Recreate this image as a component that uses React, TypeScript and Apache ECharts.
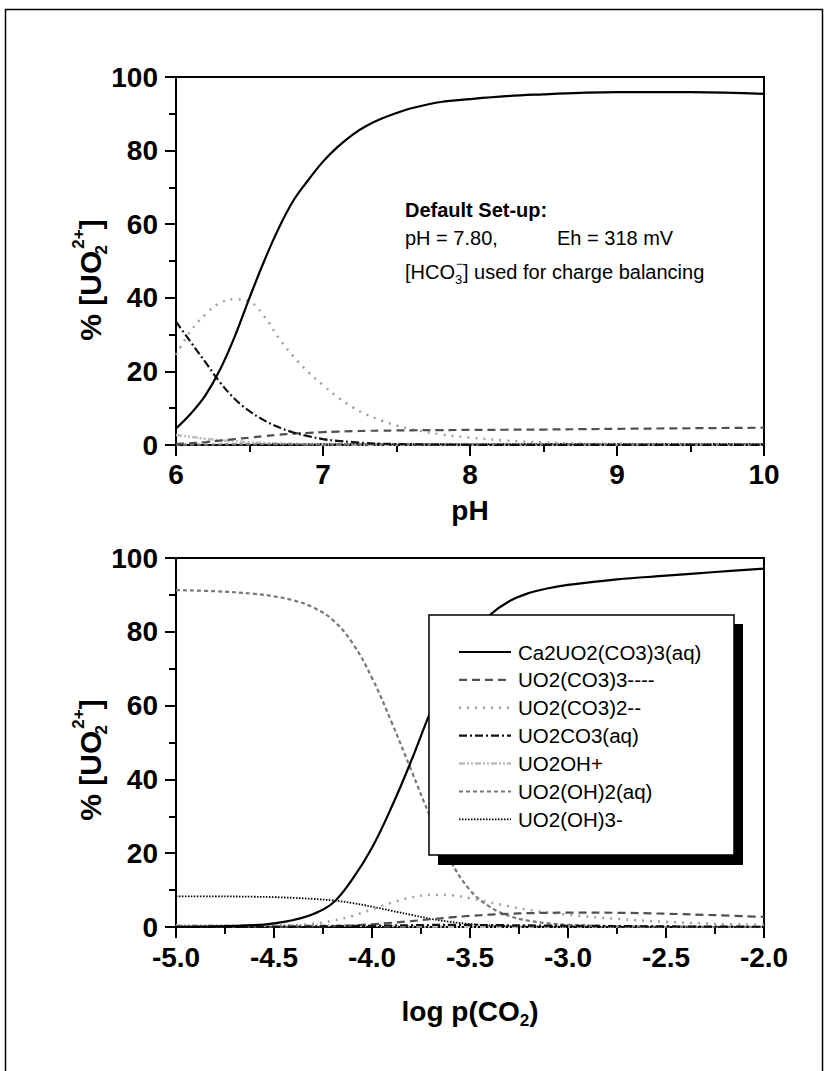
import React, { useEffect, useRef } from "react";
import * as echarts from "echarts";

const FONT = "Liberation Sans, Arial, Helvetica, sans-serif";

// ---------- top panel: percent vs pH ----------
const phValues = [6.0, 6.1, 6.2, 6.3, 6.4, 6.5, 6.6, 6.7, 6.8, 6.9, 7.0, 7.1, 7.2, 7.3, 7.4, 7.5, 7.6, 7.8, 8.0, 8.25, 8.5, 8.75, 9.0, 9.5, 10.0];
const topCa2UO2CO3 = [4.5, 8.5, 13.5, 20.5, 29.5, 40, 50, 59, 66.5, 72, 77, 81, 84.3, 86.8, 88.7, 90.2, 91.5, 93.2, 94.0, 94.8, 95.3, 95.7, 95.9, 95.9, 95.4];
const topUO2CO33 = [0.3, 0.5, 0.8, 1.2, 1.6, 2.0, 2.4, 2.8, 3.1, 3.3, 3.5, 3.65, 3.75, 3.85, 3.9, 3.95, 4.0, 4.05, 4.1, 4.15, 4.2, 4.3, 4.4, 4.55, 4.7];
const topUO2CO32 = [24.5, 31, 35.5, 38.6, 39.6, 39, 35, 29, 24, 19.8, 16.3, 13, 10.3, 8.2, 6.6, 5.3, 4.3, 2.9, 2.0, 1.2, 0.7, 0.4, 0.25, 0.1, 0.05];
const topUO2CO3aq = [33.5, 28, 22.5, 17, 12.5, 9.2, 6.7, 4.8, 3.4, 2.4, 1.6, 1.1, 0.8, 0.5, 0.35, 0.25, 0.18, 0.1, 0.05, 0.03, 0.02, 0.02, 0.02, 0.01, 0.01];
const topUO2OH = [2.7, 2.2, 1.7, 1.3, 1.0, 0.75, 0.55, 0.4, 0.3, 0.2, 0.15, 0.12, 0.1, 0.08, 0.07, 0.06, 0.05, 0.04, 0.03, 0.03, 0.02, 0.02, 0.02, 0.02, 0.02];
const topUO2OH2 = [0.1, 0.1, 0.12, 0.14, 0.16, 0.18, 0.2, 0.2, 0.2, 0.2, 0.2, 0.2, 0.2, 0.2, 0.2, 0.2, 0.2, 0.2, 0.2, 0.2, 0.2, 0.2, 0.2, 0.2, 0.2];
const topUO2OH3 = [0.02, 0.03, 0.04, 0.06, 0.08, 0.1, 0.12, 0.14, 0.16, 0.18, 0.2, 0.2, 0.22, 0.22, 0.24, 0.24, 0.25, 0.25, 0.26, 0.26, 0.27, 0.27, 0.28, 0.28, 0.3];

// ---------- bottom panel: percent vs log p(CO2) ----------
const logPco2 = [-5.0, -4.8, -4.6, -4.5, -4.4, -4.3, -4.2, -4.1, -4.0, -3.9, -3.8, -3.7, -3.6, -3.5, -3.4, -3.3, -3.2, -3.1, -3.0, -2.75, -2.5, -2.25, -2.0];
const botCa2UO2CO3 = [0.05, 0.15, 0.5, 1.0, 1.9, 3.5, 6.5, 13.0, 21.5, 32.5, 45, 58.5, 70, 78.5, 84.5, 88.3, 90.5, 91.8, 92.7, 94.2, 95.2, 96.2, 97.1];
const botUO2CO33 = [0.0, 0.01, 0.02, 0.04, 0.07, 0.13, 0.25, 0.45, 0.75, 1.15, 1.6, 2.1, 2.6, 3.0, 3.35, 3.6, 3.75, 3.85, 3.9, 3.85, 3.6, 3.2, 2.75];
const botUO2CO32 = [0.05, 0.1, 0.2, 0.3, 0.5, 0.9, 1.7, 3.0, 4.8, 6.6, 8.0, 8.7, 8.6, 7.8, 6.7, 5.6, 4.6, 3.9, 3.3, 2.2, 1.4, 0.9, 0.6];
const botUO2CO3aq = [0.02, 0.03, 0.05, 0.07, 0.1, 0.14, 0.2, 0.26, 0.32, 0.4, 0.48, 0.55, 0.58, 0.56, 0.52, 0.47, 0.42, 0.38, 0.34, 0.25, 0.16, 0.1, 0.06];
const botUO2OH = [0.5, 0.5, 0.5, 0.5, 0.48, 0.46, 0.43, 0.38, 0.33, 0.26, 0.2, 0.14, 0.09, 0.06, 0.04, 0.03, 0.02, 0.02, 0.01, 0.01, 0.01, 0.01, 0.01];
const botUO2OH2 = [91.3, 91.0, 90.3, 89.6, 88.5, 86.6, 83.2, 77.0, 67.5, 55.5, 42.5, 29.5, 18, 10, 5.5, 3.0, 1.7, 1.0, 0.6, 0.25, 0.12, 0.06, 0.03];
const botUO2OH3 = [8.3, 8.3, 8.2, 8.1, 7.9, 7.6, 7.2, 6.5, 5.5, 4.4, 3.3, 2.2, 1.4, 0.8, 0.45, 0.25, 0.15, 0.1, 0.06, 0.03, 0.02, 0.01, 0.01];

const speciesNames = [
  "Ca2UO2(CO3)3(aq)",
  "UO2(CO3)3----",
  "UO2(CO3)2--",
  "UO2CO3(aq)",
  "UO2OH+",
  "UO2(OH)2(aq)",
  "UO2(OH)3-",
];
const topSeries = [topCa2UO2CO3, topUO2CO33, topUO2CO32, topUO2CO3aq, topUO2OH, topUO2OH2, topUO2OH3];
const bottomSeries = [botCa2UO2CO3, botUO2CO33, botUO2CO32, botUO2CO3aq, botUO2OH, botUO2OH2, botUO2OH3];

const lineStyles = [
  { color: "#000000", dash: null as number[] | null, width: 2.2 },
  { color: "#505050", dash: [8, 5], width: 2.2 },
  { color: "#a0a0a0", dash: [2, 6], width: 2.5 },
  { color: "#111111", dash: [8, 3, 2, 3], width: 2.2 },
  { color: "#bdbdbd", dash: [6, 2, 2, 2, 2, 2], width: 2.5 },
  { color: "#777777", dash: [4, 3], width: 2.2 },
  { color: "#000000", dash: [1.5, 1.5], width: 1.8 },
];

const axisCommon = (fmt?: (v: number) => string) => ({
  type: "value" as const,
  axisLine: { show: true, onZero: false, lineStyle: { color: "#000", width: 2 } },
  axisTick: { show: true, inside: false, length: 11, lineStyle: { color: "#000", width: 2 } },
  minorTick: { show: true, splitNumber: 2, length: 7, lineStyle: { color: "#000", width: 2 } },
  splitLine: { show: false },
  minorSplitLine: { show: false },
  axisLabel: {
    color: "#000",
    fontSize: 28,
    fontWeight: "bold" as const,
    fontFamily: FONT,
    formatter: fmt,
  },
});

export default function App() {
  const ref = useRef<HTMLDivElement>(null);
  useEffect(() => {
    if (!ref.current) return;
    const chart = echarts.init(ref.current, undefined, { renderer: "svg" });

    const series: any[] = [];
    const order = [4, 6, 5, 2, 1, 3, 0];
    order.forEach((i) => {
      const st = lineStyles[i];
      series.push({
        type: "line",
        name: speciesNames[i],
        xAxisIndex: 0,
        yAxisIndex: 0,
        data: phValues.map((x, k) => [x, topSeries[i][k]]),
        showSymbol: false,
        smooth: 0.4,
        lineStyle: { color: st.color, width: st.width, type: st.dash ? st.dash : "solid" },
        z: 3,
      });
      series.push({
        type: "line",
        name: speciesNames[i],
        xAxisIndex: 1,
        yAxisIndex: 1,
        data: logPco2.map((x, k) => [x, bottomSeries[i][k]]),
        showSymbol: false,
        smooth: 0.4,
        lineStyle: { color: st.color, width: st.width, type: st.dash ? st.dash : "solid" },
        z: 3,
      });
    });

    const nameStyle = {
      color: "#000",
      fontSize: 28,
      fontWeight: "bold" as const,
      fontFamily: FONT,
    };

    const yNameRich = {
      a: { fontSize: 30, fontWeight: "bold", fontFamily: FONT, fill: "#000", lineHeight: 40 },
      b: { fontSize: 17, fontWeight: "bold", fontFamily: FONT, fill: "#000", lineHeight: 24, verticalAlign: "bottom", width: 2 },
      c: { fontSize: 17, fontWeight: "bold", fontFamily: FONT, fill: "#000", lineHeight: 8, verticalAlign: "top" },
    };

    const legendX0 = 459;
    const legendY0 = 652;
    const legendStep = 27.9;
    const legendGraphics: any[] = [];
    speciesNames.forEach((nm, i) => {
      const st = lineStyles[i];
      const y = legendY0 + i * legendStep;
      legendGraphics.push({
        type: "line",
        z: 102,
        shape: { x1: legendX0, y1: y, x2: legendX0 + 52, y2: y },
        style: { stroke: st.color, lineWidth: st.width, lineDash: st.dash || undefined },
      });
      legendGraphics.push({
        type: "text",
        z: 102,
        x: legendX0 + 59,
        y: y,
        style: {
          text: nm,
          fontSize: 20.5,
          fontFamily: FONT,
          fill: "#000",
          align: "left",
          verticalAlign: "middle",
        },
      });
    });

    chart.setOption({
      animation: false,
      backgroundColor: "#ffffff",
      grid: [
        { left: 176, top: 77, width: 588, height: 368, show: true, borderColor: "#000", borderWidth: 2, backgroundColor: "transparent" },
        { left: 176, top: 558, width: 588, height: 369, show: true, borderColor: "#000", borderWidth: 2, backgroundColor: "transparent" },
      ],
      xAxis: [
        {
          ...axisCommon(),
          gridIndex: 0,
          min: 6,
          max: 10,
          interval: 1,
          axisLabel: { ...axisCommon().axisLabel, margin: 15 },
          name: "pH",
          nameLocation: "middle",
          nameGap: 51,
          nameTextStyle: nameStyle,
        },
        {
          ...axisCommon((v: number) => v.toFixed(1)),
          gridIndex: 1,
          min: -5,
          max: -2,
          interval: 0.5,
          axisLabel: { ...axisCommon((v: number) => v.toFixed(1)).axisLabel, margin: 16 },
          name: "{a|log p(CO}{b|2}{a|)}",
          nameLocation: "middle",
          nameGap: 66,
          nameTextStyle: {
            ...nameStyle,
            rich: {
              a: { fontSize: 28, fontWeight: "bold", fontFamily: FONT, color: "#000", lineHeight: 36 },
              b: { fontSize: 17, fontWeight: "bold", fontFamily: FONT, color: "#000", lineHeight: 20, verticalAlign: "bottom" },
            },
          },
        },
      ],
      yAxis: [
        { ...axisCommon(), gridIndex: 0, min: 0, max: 100, interval: 20, axisLabel: { ...axisCommon().axisLabel, margin: 18 } },
        { ...axisCommon(), gridIndex: 1, min: 0, max: 100, interval: 20, axisLabel: { ...axisCommon().axisLabel, margin: 18 } },
      ],
      series,
      graphic: [
        {
          type: "rect",
          z: 0,
          silent: true,
          shape: { x: 5.5, y: 9.5, width: 817, height: 1090 },
          style: { fill: "none", stroke: "#000", lineWidth: 1.5 },
        },
        {
          type: "text",
          z: 100,
          x: 90,
          y: 280,
          rotation: Math.PI / 2,
          style: { text: "{a|% [UO}{b|2}{c|2+}{a|]}", rich: yNameRich, align: "center", verticalAlign: "middle", fill: "#000" },
        },
        {
          type: "text",
          z: 100,
          x: 90,
          y: 760,
          rotation: Math.PI / 2,
          style: { text: "{a|% [UO}{b|2}{c|2+}{a|]}", rich: yNameRich, align: "center", verticalAlign: "middle", fill: "#000" },
        },
        {
          type: "text",
          z: 100,
          x: 405,
          y: 210,
          style: { text: "Default Set-up:", fontSize: 20, fontWeight: "bold", fontFamily: FONT, fill: "#000", verticalAlign: "middle" },
        },
        {
          type: "text",
          z: 100,
          x: 405,
          y: 238,
          style: { text: "pH = 7.80,", fontSize: 20, fontFamily: FONT, fill: "#000", verticalAlign: "middle" },
        },
        {
          type: "text",
          z: 100,
          x: 557,
          y: 238,
          style: { text: "Eh = 318 mV", fontSize: 20, fontFamily: FONT, fill: "#000", verticalAlign: "middle" },
        },
        {
          type: "text",
          z: 100,
          x: 405,
          y: 272,
          style: {
            text: "{a|[HCO}{b|3}{c|−}{a|] used for charge balancing}",
            verticalAlign: "middle",
            fill: "#000",
            rich: {
              a: { fontSize: 20, fontFamily: FONT, fill: "#000", lineHeight: 28 },
              b: { fontSize: 13, fontFamily: FONT, fill: "#000", lineHeight: 16, verticalAlign: "bottom", width: 1 },
              c: { fontSize: 12, fontFamily: FONT, fill: "#000", lineHeight: 14, verticalAlign: "top" },
            },
          },
        },
        {
          type: "rect",
          z: 100,
          shape: { x: 438, y: 624, width: 305, height: 241 },
          style: { fill: "#000" },
        },
        {
          type: "rect",
          z: 101,
          shape: { x: 429, y: 615, width: 305, height: 240 },
          style: { fill: "#fff", stroke: "#000", lineWidth: 1.5 },
        },
        ...legendGraphics,
      ],
    });
    return () => chart.dispose();
  }, []);
  return <div ref={ref} style={{ position: "absolute", left: 0, top: 0, width: 829, height: 1071 }} />;
}
